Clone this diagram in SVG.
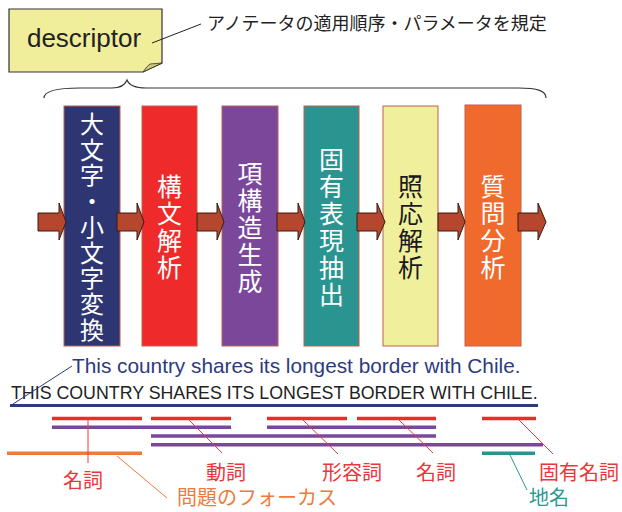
<svg xmlns="http://www.w3.org/2000/svg" width="622" height="512" viewBox="0 0 622 512">
<style>
.cjk{font-family:"Noto Sans CJK JP","Noto Sans CJK SC",sans-serif}
.lat{font-family:"Liberation Sans",Arial,sans-serif}
.box{stroke:#c0604d;stroke-width:1}
.btxt{font-family:"Noto Sans CJK JP",sans-serif;font-size:25px;text-anchor:middle;fill:#fff}
.arrow{fill:#b5472f;stroke:#3a1a10;stroke-width:1}
.seg{stroke-width:3.5;fill:none}
.red{stroke:#ee2a2a}
.pur{stroke:#7b479b}
.thin{stroke-width:1;fill:none}
.lab{font-family:"Noto Sans CJK JP",sans-serif;font-size:20px}
</style>
<rect width="622" height="512" fill="#fff"/>

<g id="descriptor">
<path d="M9,9 L162,9 L162,63 L143,72 L9,72 Z" fill="#f0ee9a" stroke="#333" stroke-width="1.2"/>
<path d="M143,72 L162,63 L150,64 Q147,66 143,72 Z" fill="#cfcb78" stroke="#333" stroke-width="0.8"/>
<text x="84" y="47" class="lat" font-size="26" text-anchor="middle" fill="#222">descriptor</text>
</g>

<g id="descriptor-note">
<line x1="152" y1="43" x2="201" y2="24" stroke="#222" stroke-width="1"/>
<text x="207" y="30" class="cjk" font-size="18" fill="#222">アノテータの適用順序・パラメータを規定</text>
</g>

<g id="brace">
<path d="M44,98 C44,91 56,88 80,88 L112,88 C121,88 125,85 127,80 C129,85 134,88 146,88 L518,88 C538,88 546,91 546,98" fill="none" stroke="#333" stroke-width="1.2"/>
</g>

<g id="box1">
<rect x="64" y="106" width="56" height="240" fill="#2e3573" class="box"/>
<text class="btxt" font-size="24" style="font-size:24px"><tspan x="92" y="133">大</tspan><tspan x="92" y="158.7">文</tspan><tspan x="92" y="184.4">字</tspan><tspan x="92" y="210.1">・</tspan><tspan x="92" y="235.8">小</tspan><tspan x="92" y="261.5">文</tspan><tspan x="92" y="287.2">字</tspan><tspan x="92" y="312.9">変</tspan><tspan x="92" y="338.6">換</tspan></text>
</g>
<g id="box2">
<rect x="142" y="106" width="55" height="240" fill="#ee2a2a" class="box"/>
<text class="btxt"><tspan x="169.5" y="196">構</tspan><tspan x="169.5" y="223">文</tspan><tspan x="169.5" y="250">解</tspan><tspan x="169.5" y="277">析</tspan></text>
</g>
<g id="box3">
<rect x="222" y="106" width="56" height="240" fill="#7b479b" class="box"/>
<text class="btxt"><tspan x="250" y="183">項</tspan><tspan x="250" y="210">構</tspan><tspan x="250" y="237">造</tspan><tspan x="250" y="264">生</tspan><tspan x="250" y="291">成</tspan></text>
</g>
<g id="box4">
<rect x="304" y="106" width="55" height="240" fill="#2a9590" class="box"/>
<text class="btxt"><tspan x="331.5" y="169">固</tspan><tspan x="331.5" y="196">有</tspan><tspan x="331.5" y="223">表</tspan><tspan x="331.5" y="250">現</tspan><tspan x="331.5" y="277">抽</tspan><tspan x="331.5" y="304">出</tspan></text>
</g>
<g id="box5">
<rect x="383" y="106" width="55" height="240" fill="#f0ef9c" class="box" stroke="#e07850"/>
<text class="btxt" style="fill:#1a1a1a"><tspan x="410.5" y="196">照</tspan><tspan x="410.5" y="223">応</tspan><tspan x="410.5" y="250">解</tspan><tspan x="410.5" y="277">析</tspan></text>
</g>
<g id="box6">
<rect x="465" y="105" width="56" height="241" fill="#f06a2e" class="box"/>
<text class="btxt"><tspan x="493" y="196">質</tspan><tspan x="493" y="223">問</tspan><tspan x="493" y="250">分</tspan><tspan x="493" y="277">析</tspan></text>
</g>

<g id="arrows">
<path class="arrow" d="M38,213 L59,213 L59,203 L66,222 L59,240 L59,231 L38,231 Z"/>
<path class="arrow" d="M117,213 L137,213 L137,203 L144,222 L137,240 L137,231 L117,231 Z"/>
<path class="arrow" d="M197,213 L217,213 L217,203 L224,222 L217,240 L217,231 L197,231 Z"/>
<path class="arrow" d="M277,213 L298,213 L298,203 L305,222 L298,240 L298,231 L277,231 Z"/>
<path class="arrow" d="M357,213 L377,213 L377,203 L385,222 L377,240 L377,231 L357,231 Z"/>
<path class="arrow" d="M438,213 L458,213 L458,203 L465,222 L458,240 L458,231 L438,231 Z"/>
<path class="arrow" d="M518,213 L538,213 L538,203 L546,222 L538,240 L538,231 L518,231 Z"/>
</g>

<g id="sentence">
<text x="72" y="373" class="lat" font-size="20.8" fill="#2e3a80">This country shares its longest border with Chile.</text>
<text x="11" y="399" class="lat" font-size="17.8" fill="#222">THIS COUNTRY SHARES ITS LONGEST BORDER WITH CHILE.</text>
<line x1="10" y1="405.5" x2="538" y2="405.5" stroke="#2e3a80" stroke-width="3"/>
<line x1="72" y1="366" x2="13" y2="404" stroke="#2e3a80" stroke-width="1"/>
</g>

<g id="connectors">
<line class="seg red" x1="52" y1="418.5" x2="142" y2="418.5"/>
<line class="seg red" x1="151" y1="418.5" x2="231" y2="418.5"/>
<line class="seg red" x1="267" y1="418.5" x2="347" y2="418.5"/>
<line class="seg red" x1="357" y1="418.5" x2="436" y2="418.5"/>
<line class="seg red" x1="482" y1="418.5" x2="536" y2="418.5"/>
<line class="seg pur" x1="52" y1="427.3" x2="231" y2="427.3"/>
<line class="seg pur" x1="267" y1="427.3" x2="436" y2="427.3"/>
<line class="seg pur" x1="151" y1="436" x2="436" y2="436"/>
<line class="seg pur" x1="151" y1="444.7" x2="543" y2="444.7"/>
<line class="seg" stroke="#f07a3a" x1="7" y1="453.3" x2="142" y2="453.3"/>
<line class="seg" stroke="#2a9590" x1="482" y1="453.3" x2="535" y2="453.3"/>
<line class="thin" stroke="#ee3a3a" x1="88" y1="418" x2="88" y2="463"/>
<line class="thin" stroke="#ee3a3a" x1="188" y1="419" x2="222" y2="453"/>
<line class="thin" stroke="#ee3a3a" x1="303" y1="420" x2="338" y2="454"/>
<line class="thin" stroke="#ee3a3a" x1="398" y1="419" x2="433" y2="453"/>
<line class="thin" stroke="#ee3a3a" x1="518" y1="419" x2="553" y2="454"/>
<line class="thin" stroke="#2a9590" x1="509" y1="453" x2="527" y2="490"/>
<line class="thin" stroke="#f07a3a" x1="117" y1="456" x2="167" y2="498"/>
</g>

<g id="label-noun1"><text x="63" y="488" class="lab" fill="#e8383d">名詞</text></g>
<g id="label-verb"><text x="206" y="480" class="lab" fill="#e8383d">動詞</text></g>
<g id="label-adj"><text x="322" y="480" class="lab" fill="#e8383d">形容詞</text></g>
<g id="label-noun2"><text x="416" y="480" class="lab" fill="#e8383d">名詞</text></g>
<g id="label-proper"><text x="539" y="480" class="lab" fill="#e8383d">固有名詞</text></g>
<g id="label-place"><text x="529" y="505" class="lab" fill="#2a9a94">地名</text></g>
<g id="label-focus"><text x="177" y="505" class="lab" fill="#f07a3a">問題のフォーカス</text></g>
</svg>
